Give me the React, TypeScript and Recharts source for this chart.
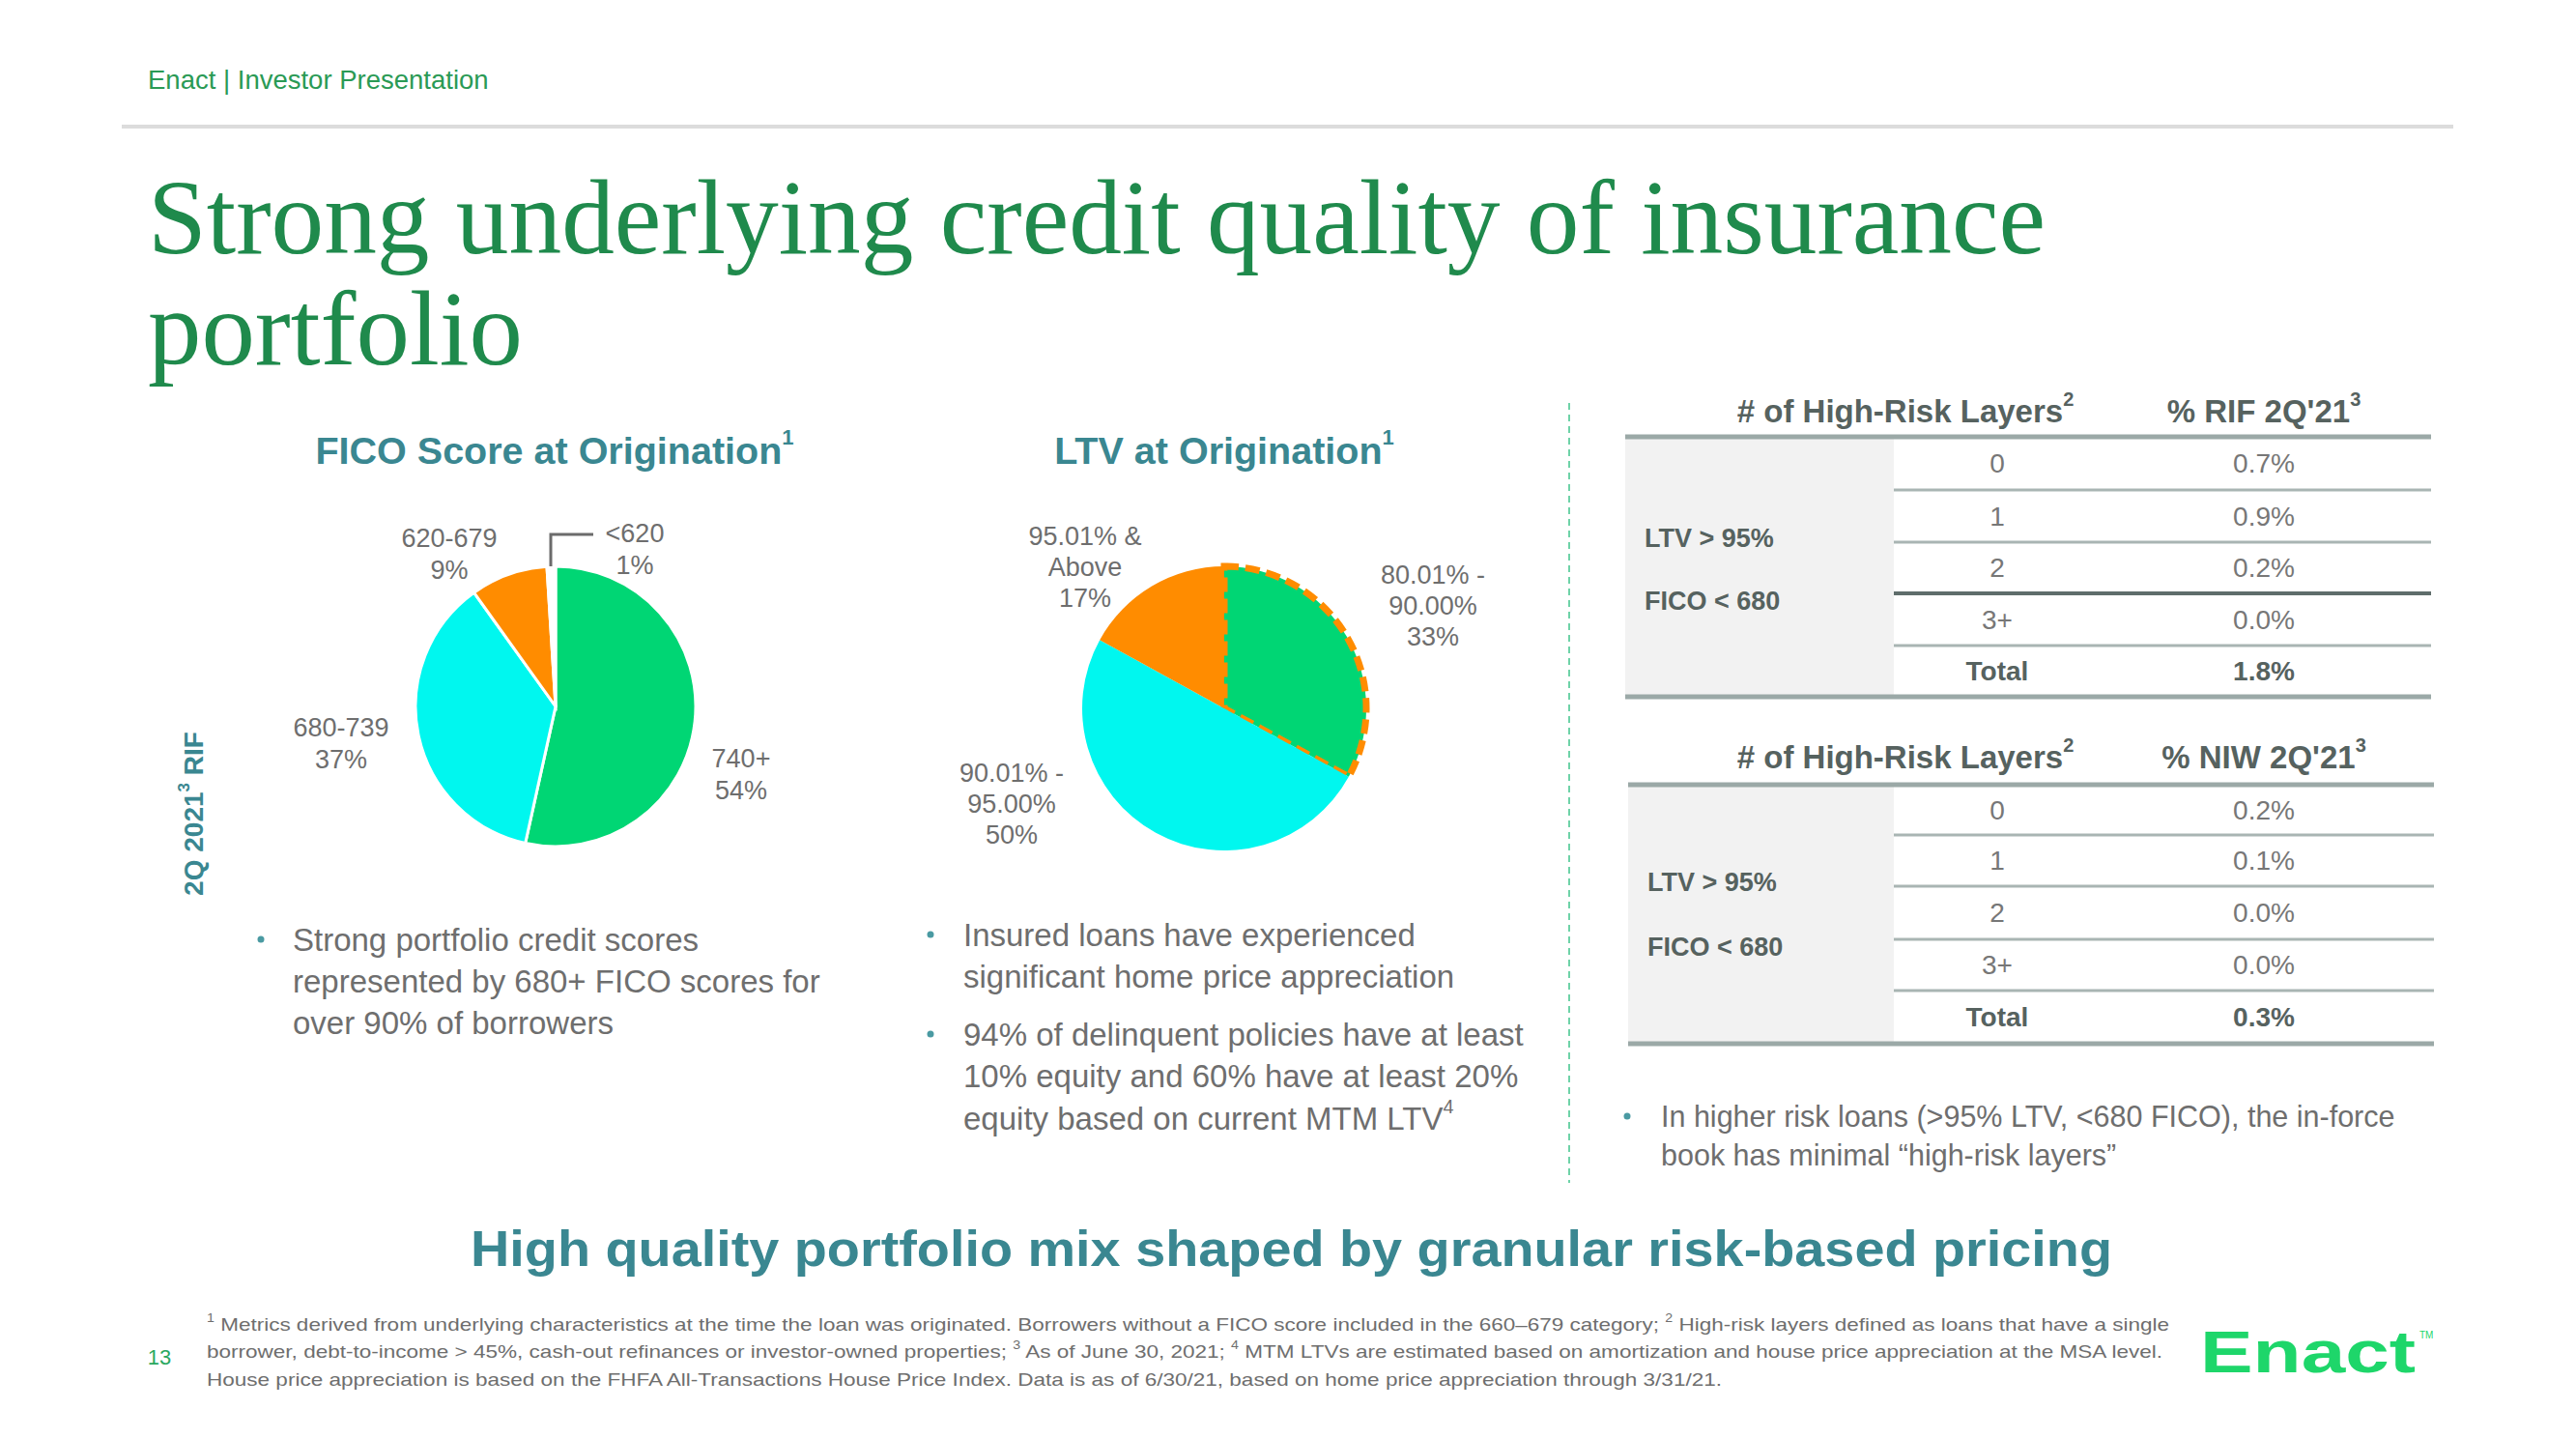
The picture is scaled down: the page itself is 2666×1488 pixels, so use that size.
import React from 'react';
import { PieChart, Pie, Cell } from 'recharts';

// ---------- data ----------
const ficoCategories = ['740+', '680-739', '620-679', '<620'];
const ficoValues = [54, 37, 9, 1];
const ficoColors = ['#00d674', '#00f7ef', '#ff8c00', '#ffffff'];

const ltvCategories = ['80.01% - 90.00%', '90.01% - 95.00%', '95.01% & Above'];
const ltvLabelLines = [['80.01% -', '90.00%'], ['90.01% -', '95.00%'], ['95.01% &', 'Above']];
const ltvValues = [33, 50, 17];
const ltvColors = ['#00d674', '#00f7ef', '#ff8c00'];

const riskLayers = ['0', '1', '2', '3+', 'Total'];
const rifValues = ['0.7%', '0.9%', '0.2%', '0.0%', '1.8%'];
const niwValues = ['0.2%', '0.1%', '0.0%', '0.0%', '0.3%'];

const ficoBullet = ['Strong portfolio credit scores', 'represented by 680+ FICO scores for', 'over 90% of borrowers'];
const ltvBullet1 = ['Insured loans have experienced', 'significant home price appreciation'];
const ltvBullet2 = ['94% of delinquent policies have at least', '10% equity and 60% have at least 20%', 'equity based on current MTM LTV'];
const tableBullet = ['In higher risk loans (>95% LTV, <680 FICO), the in-force', 'book has minimal \u201chigh-risk layers\u201d'];

const ficoData = ficoCategories.map((name, i) => ({ name, value: ficoValues[i] }));
const ltvData = ltvCategories.map((name, i) => ({ name, value: ltvValues[i] }));

// ---------- layout ----------
const SANS = '"Liberation Sans", Arial, sans-serif';
const SERIF = '"Liberation Serif", "Times New Roman", serif';
const TEAL = '#3a8791';
const GRAY = '#6e6e6e';
const DARK = '#56625f';
const GREEN = '#1f8a4c';

const ficoLabelPos = [[767, 785], [353, 753], [465, 557], [657, 552]];
const ltvLabelPos = [[1483, 595], [1047, 800], [1123, 555]];

function Table({ x0, x1, shadeX, top, lines, bottom, headerY, valueHeader, values, lblY1, lblY2, lblX, darkIdx }: any) {
  const rows = [top, ...lines, bottom];
  return (
    <g>
      <rect x={x0} y={top} width={shadeX - x0} height={bottom - top} fill="#f2f2f2" />
      <text x={1972} y={headerY} textAnchor="middle" dominantBaseline="central" fontFamily={SANS} fontWeight="bold" fontSize={33} fill={DARK}>
        # of High-Risk Layers<tspan fontSize={20} dy={-12}>2</tspan>
      </text>
      <text x={2343} y={headerY} textAnchor="middle" dominantBaseline="central" fontFamily={SANS} fontWeight="bold" fontSize={33} fill={DARK}>
        {valueHeader}<tspan fontSize={20} dy={-12}>3</tspan>
      </text>
      <line x1={x0} x2={x1} y1={top} y2={top} stroke="#9ba9a7" strokeWidth={5} />
      <line x1={x0} x2={x1} y1={bottom} y2={bottom} stroke="#9ba9a7" strokeWidth={5} />
      {lines.map((ly: number, i: number) => (
        <line key={i} x1={shadeX} x2={x1} y1={ly} y2={ly} stroke={i === darkIdx ? '#5f6d6b' : '#a9b5b3'} strokeWidth={i === darkIdx ? 4 : 3} />
      ))}
      {riskLayers.map((r, i) => {
        const cy = (rows[i] + rows[i + 1]) / 2;
        const bold = r === 'Total';
        return (
          <g key={r}>
            <text x={2067} y={cy} textAnchor="middle" dominantBaseline="central" fontFamily={SANS} fontSize={28} fontWeight={bold ? 'bold' : 'normal'} fill={bold ? DARK : '#777'}>{r}</text>
            <text x={2343} y={cy} textAnchor="middle" dominantBaseline="central" fontFamily={SANS} fontSize={28} fontWeight={bold ? 'bold' : 'normal'} fill={bold ? DARK : '#777'}>{values[i]}</text>
          </g>
        );
      })}
      <text x={lblX} y={lblY1} dominantBaseline="central" fontFamily={SANS} fontWeight="bold" fontSize={27} fill={DARK}>LTV &gt; 95%</text>
      <text x={lblX} y={lblY2} dominantBaseline="central" fontFamily={SANS} fontWeight="bold" fontSize={27} fill={DARK}>FICO &lt; 680</text>
    </g>
  );
}

function Bullet({ x, tx, ys, lines, size, sup }: any) {
  return (
    <g>
      <circle cx={x} cy={ys[0]} r={3.5} fill="#4a9aa2" />
      {lines.map((l: string, i: number) => (
        <text key={i} x={tx} y={ys[i]} dominantBaseline="central" fontFamily={SANS} fontSize={size} fill={GRAY}>
          {l}{sup && i === lines.length - 1 ? <tspan fontSize={size * 0.6} dy={-12}>{sup}</tspan> : null}
        </text>
      ))}
    </g>
  );
}

export default function App() {
  return (
    <div style={{ position: 'fixed', left: 0, top: 0, width: 2666, height: 1488, background: '#fff', overflow: 'hidden' }}>
      <div style={{ position: 'absolute', left: 0, top: 0 }}>
        <PieChart width={2666} height={1488} margin={{ top: 0, right: 0, bottom: 0, left: 0 }}>
          <Pie data={ficoData} dataKey="value" nameKey="name" cx={575} cy={731} outerRadius={145} startAngle={90} endAngle={-270} stroke="#ffffff" strokeWidth={3} isAnimationActive={false} label={false} labelLine={false}>
            {ficoData.map((d, i) => <Cell key={d.name} fill={ficoColors[i]} />)}
          </Pie>
          <Pie data={ltvData} dataKey="value" nameKey="name" cx={1267} cy={733} outerRadius={147} startAngle={90} endAngle={-270} stroke="none" isAnimationActive={false} label={false} labelLine={false}>
            {ltvData.map((d, i) => (
              <Cell key={d.name} fill={ltvColors[i]} stroke={i === 0 ? '#ff8c00' : 'none'} strokeWidth={i === 0 ? 7 : 0} strokeDasharray={i === 0 ? '15 7' : undefined} />
            ))}
          </Pie>
        </PieChart>
      </div>
      <svg width={2666} height={1488} style={{ position: 'absolute', left: 0, top: 0, pointerEvents: 'none' }}>
        {/* header */}
        <text x={153} y={82} dominantBaseline="central" fontFamily={SANS} fontSize={27.5} fill="#2a9a55">Enact | Investor Presentation</text>
        <line x1={126} x2={2539} y1={131} y2={131} stroke="#dcdcdc" strokeWidth={4} />
        <text x={153} y={262} fontFamily={SERIF} fontSize={110} fill={GREEN} textLength={1964} lengthAdjust="spacingAndGlyphs">Strong underlying credit quality of insurance</text>
        <text x={153} y={377} fontFamily={SERIF} fontSize={110} fill={GREEN} textLength={388} lengthAdjust="spacingAndGlyphs">portfolio</text>

        {/* chart titles */}
        <text x={574} y={466} textAnchor="middle" dominantBaseline="central" fontFamily={SANS} fontWeight="bold" fontSize={39.5} fill={TEAL}>
          FICO Score at Origination<tspan fontSize={22} dy={-14}>1</tspan>
        </text>
        <text x={1267} y={466} textAnchor="middle" dominantBaseline="central" fontFamily={SANS} fontWeight="bold" fontSize={39.5} fill={TEAL}>
          LTV at Origination<tspan fontSize={22} dy={-14}>1</tspan>
        </text>
        <text x={200} y={842} transform="rotate(-90 200 842)" textAnchor="middle" dominantBaseline="central" fontFamily={SANS} fontWeight="bold" fontSize={28} fill={TEAL}>
          2Q 2021<tspan fontSize={17} dy={-10}>3</tspan><tspan dy={10}> RIF</tspan>
        </text>

        {/* FICO labels */}
        {ficoCategories.map((c, i) => (
          <g key={c}>
            <text x={ficoLabelPos[i][0]} y={ficoLabelPos[i][1]} textAnchor="middle" dominantBaseline="central" fontFamily={SANS} fontSize={27} fill={GRAY}>{c}</text>
            <text x={ficoLabelPos[i][0]} y={ficoLabelPos[i][1] + 33} textAnchor="middle" dominantBaseline="central" fontFamily={SANS} fontSize={27} fill={GRAY}>{ficoValues[i]}%</text>
          </g>
        ))}
        <polyline points="570,586 570,553 614,553" fill="none" stroke="#6b6b6b" strokeWidth={3} />

        {/* LTV labels */}
        {ltvLabelLines.map((lines, i) => (
          <g key={i}>
            {[...lines, `${ltvValues[i]}%`].map((l, j) => (
              <text key={j} x={ltvLabelPos[i][0]} y={ltvLabelPos[i][1] + j * 32} textAnchor="middle" dominantBaseline="central" fontFamily={SANS} fontSize={27} fill={GRAY}>{l}</text>
            ))}
          </g>
        ))}

        {/* bullets */}
        <Bullet x={270} tx={303} ys={[972, 1015, 1058]} lines={ficoBullet} size={33} />
        <Bullet x={963} tx={997} ys={[967, 1010]} lines={ltvBullet1} size={33} />
        <Bullet x={963} tx={997} ys={[1070, 1113, 1157]} lines={ltvBullet2} size={33} sup="4" />

        {/* divider */}
        <line x1={1624} x2={1624} y1={417} y2={1224} stroke="#6fd3a8" strokeWidth={2} strokeDasharray="7 5" />

        {/* tables */}
        <Table x0={1682} x1={2516} shadeX={1960} top={452} lines={[507, 561, 614, 668]} bottom={721} headerY={425} valueHeader="% RIF 2Q'21" values={rifValues} lblX={1702} lblY1={557} lblY2={622} darkIdx={2} />
        <Table x0={1685} x1={2519} shadeX={1960} top={812} lines={[864, 917, 972, 1025]} bottom={1080} headerY={783} valueHeader="% NIW 2Q'21" values={niwValues} lblX={1705} lblY1={913} lblY2={980} darkIdx={-1} />

        <Bullet x={1684} tx={1719} ys={[1155, 1195]} lines={tableBullet} size={30.5} />

        {/* bottom headline */}
        <text x={487} y={1292} dominantBaseline="central" fontFamily={SANS} fontWeight="bold" fontSize={52} fill={TEAL} textLength={1699} lengthAdjust="spacingAndGlyphs">High quality portfolio mix shaped by granular risk-based pricing</text>

        {/* footnotes */}
        <text x={165} y={1404} textAnchor="middle" dominantBaseline="central" fontFamily={SANS} fontSize={22} fill="#2aa860">13</text>
        <text x={214} y={1370} dominantBaseline="central" fontFamily={SANS} fontSize={19} fill={GRAY} textLength={2031} lengthAdjust="spacingAndGlyphs">
          <tspan fontSize={12} dy={-6}>1</tspan><tspan dy={6}> Metrics derived from underlying characteristics at the time the loan was originated. Borrowers without a FICO score included in the 660–679 category; </tspan><tspan fontSize={12} dy={-6}>2</tspan><tspan dy={6}> High-risk layers defined as loans that have a single</tspan>
        </text>
        <text x={214} y={1398} dominantBaseline="central" fontFamily={SANS} fontSize={19} fill={GRAY} textLength={2024} lengthAdjust="spacingAndGlyphs">
          borrower, debt-to-income &gt; 45%, cash-out refinances or investor-owned properties; <tspan fontSize={12} dy={-6}>3</tspan><tspan dy={6}> As of June 30, 2021; </tspan><tspan fontSize={12} dy={-6}>4</tspan><tspan dy={6}> MTM LTVs are estimated based on amortization and house price appreciation at the MSA level.</tspan>
        </text>
        <text x={214} y={1427} dominantBaseline="central" fontFamily={SANS} fontSize={19} fill={GRAY} textLength={1568} lengthAdjust="spacingAndGlyphs">
          House price appreciation is based on the FHFA All-Transactions House Price Index. Data is as of 6/30/21, based on home price appreciation through 3/31/21.
        </text>

        {/* logo */}
        <text x={2277} y={1398} dominantBaseline="central" fontFamily={SANS} fontWeight="bold" fontSize={62} fill="#1ed66a" textLength={223} lengthAdjust="spacingAndGlyphs">Enact</text>
        <text x={2504} y={1381} dominantBaseline="central" fontFamily={SANS} fontSize={10} fill="#1ed66a">TM</text>
      </svg>
    </div>
  );
}
